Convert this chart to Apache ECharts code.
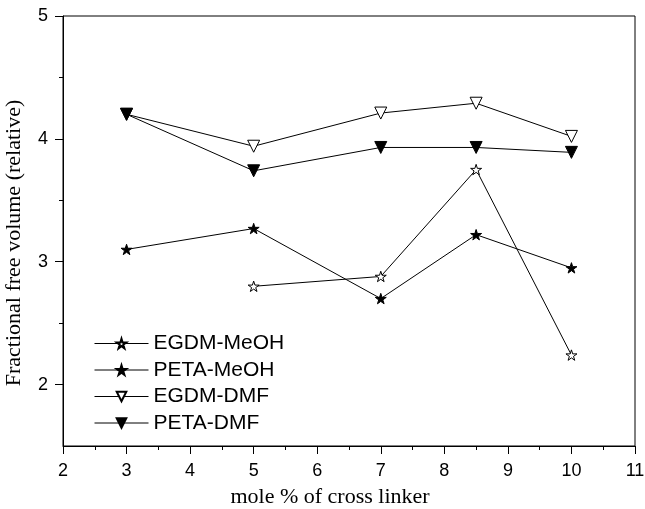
<!DOCTYPE html>
<html>
<head>
<meta charset="utf-8">
<script src="https://cdn.jsdelivr.net/npm/echarts@6/dist/echarts.min.js"></script>
<style>
  html, body { margin: 0; padding: 0; background: #fff; }
  #chart { width: 645px; height: 509px; }
</style>
</head>
<body>
<div id="chart"></div>
<script>
// 数据
const xEgdmMeoh = [5, 7, 8.5, 10];
const yEgdmMeoh = [2.80, 2.88, 3.75, 2.24];

const xPetaMeoh = [3, 5, 7, 8.5, 10];
const yPetaMeoh = [3.10, 3.27, 2.70, 3.22, 2.95];

const xEgdmDmf = [3, 5, 7, 8.5, 10];
const yEgdmDmf = [4.20, 3.94, 4.21, 4.29, 4.02];

const xPetaDmf = [3, 5, 7, 8.5, 10];
const yPetaDmf = [4.20, 3.74, 3.93, 3.93, 3.89];

const yMajorTicks = [2, 3, 4, 5];
const yMinorTicks = [2.5, 3.5, 4.5];

const pair = (xs, ys) => xs.map((x, i) => [x, ys[i]]);

const STAR = 'path://M50,0 L61,35 L98,35 L68,57 L79,91 L50,70 L21,91 L32,57 L2,35 L39,35 Z';

const myChart = echarts.init(document.getElementById('chart'));

function lineSeries(name, data, symbol, filled, size) {
    return {
        name: name,
        type: 'line',
        data: data,
        symbol: symbol,
        symbolSize: size,
        symbolRotate: symbol === 'triangle' ? 180 : 0,
        symbolKeepAspect: true,
        showAllSymbol: true,
        lineStyle: { color: '#000', width: 1 },
        itemStyle: {
            color: filled ? '#000' : '#fff',
            borderColor: '#000',
            borderWidth: 1
        },
        emphasis: { disabled: true },
        animation: false
    };
}

const option = {
    animation: false,
    grid: {
        left: 63, right: 10, top: 16, bottom: 63,
        containLabel: false,
        outerBoundsMode: 'none',
        show: true, borderColor: '#000', borderWidth: 1
    },
    legend: {
        orient: 'vertical',
        left: 94,
        top: 333,
        padding: 0,
        itemWidth: 54,
        itemHeight: 12,
        itemGap: 5.5,
        lineStyle: { width: 1 },
        textStyle: { fontFamily: 'Liberation Sans', fontSize: 21, color: '#000' },
        data: ['EGDM-MeOH', 'PETA-MeOH', 'EGDM-DMF', 'PETA-DMF']
    },
    xAxis: {
        type: 'value',
        min: 2, max: 11, interval: 1,
        name: 'mole % of cross linker',
        nameLocation: 'middle',
        nameGap: 40,
        nameTextStyle: {
            fontFamily: 'Liberation Serif', fontSize: 22, color: '#000',
            padding: [0, 38, 0, 0]
        },
        axisLine: { lineStyle: { color: '#000', width: 1 } },
        axisTick: { length: 8, lineStyle: { color: '#000' } },
        minorTick: { show: true, splitNumber: 2, length: 4, lineStyle: { color: '#000' } },
        axisLabel: { fontFamily: 'Liberation Sans', fontSize: 18, color: '#000', margin: 16 },
        splitLine: { show: false }
    },
    yAxis: [{
        type: 'value',
        min: 1.5, max: 5,
        name: 'Fractional free volume (relative)',
        nameLocation: 'middle',
        nameGap: 38,
        nameTextStyle: {
            fontFamily: 'Liberation Serif', fontSize: 22, color: '#000',
            padding: [0, 24, 0, 0]
        },
        axisLine: { show: true, lineStyle: { color: '#000', width: 1 } },
        axisTick: { show: true, length: 8, customValues: yMajorTicks, lineStyle: { color: '#000' } },
        axisLabel: { customValues: yMajorTicks, fontFamily: 'Liberation Sans', fontSize: 18, color: '#000', margin: 15 },
        splitLine: { show: false }
    }, {
        type: 'value',
        position: 'left',
        min: 1.5, max: 5,
        axisLine: { show: false },
        axisTick: { show: true, length: 4, customValues: yMinorTicks, lineStyle: { color: '#000' } },
        axisLabel: { show: false },
        splitLine: { show: false }
    }],
    series: [
        lineSeries('EGDM-MeOH', pair(xEgdmMeoh, yEgdmMeoh), STAR, false, 11),
        lineSeries('PETA-MeOH', pair(xPetaMeoh, yPetaMeoh), STAR, true, 11),
        lineSeries('EGDM-DMF', pair(xEgdmDmf, yEgdmDmf), 'triangle', false, 12),
        lineSeries('PETA-DMF', pair(xPetaDmf, yPetaDmf), 'triangle', true, 12)
    ]
};

myChart.setOption(option);
</script>
</body>
</html>
